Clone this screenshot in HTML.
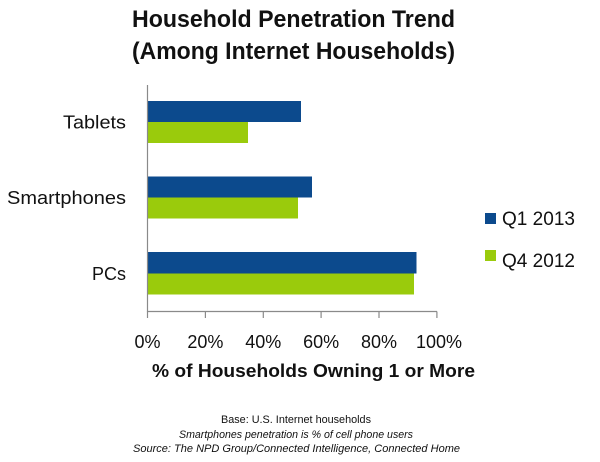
<!DOCTYPE html>
<html>
<head>
<meta charset="utf-8">
<style>
html,body{margin:0;padding:0;background:#fff;}
svg{display:block;}
text{font-family:"Liberation Sans",sans-serif;fill:#111;}
</style>
</head>
<body>
<svg width="600" height="462" viewBox="0 0 600 462" xmlns="http://www.w3.org/2000/svg">
<rect width="600" height="462" fill="#fff"/>
<!-- Title -->
<text x="132" y="27" font-size="24" font-weight="bold" textLength="323" lengthAdjust="spacingAndGlyphs">Household Penetration Trend</text>
<text x="132" y="59" font-size="24" font-weight="bold" textLength="323" lengthAdjust="spacingAndGlyphs">(Among Internet Households)</text>

<!-- Bars -->
<g>
<rect x="147.5" y="101" width="153.5" height="21" fill="#0c4a8d"/>
<rect x="147.5" y="122" width="100.5" height="21" fill="#9acb0c"/>
<rect x="147.5" y="176.5" width="164.5" height="21" fill="#0c4a8d"/>
<rect x="147.5" y="197.5" width="150.5" height="21" fill="#9acb0c"/>
<rect x="147.5" y="252" width="269" height="21.5" fill="#0c4a8d"/>
<rect x="147.5" y="273.5" width="266.5" height="21" fill="#9acb0c"/>
</g>

<!-- Axes -->
<g stroke="#8a8a8a" stroke-width="1.2" fill="none">
<line x1="147.5" y1="85" x2="147.5" y2="312"/>
<line x1="147.5" y1="311.5" x2="437" y2="311.5"/>
<line x1="147.5" y1="311.5" x2="147.5" y2="318"/>
<line x1="205.4" y1="311.5" x2="205.4" y2="318"/>
<line x1="263.3" y1="311.5" x2="263.3" y2="318"/>
<line x1="321.1" y1="311.5" x2="321.1" y2="318"/>
<line x1="379" y1="311.5" x2="379" y2="318"/>
<line x1="436.9" y1="311.5" x2="436.9" y2="318"/>
</g>

<!-- Category labels -->
<text x="126" y="128.5" font-size="18" text-anchor="end" textLength="63" lengthAdjust="spacingAndGlyphs">Tablets</text>
<text x="126" y="204" font-size="18" text-anchor="end" textLength="119" lengthAdjust="spacingAndGlyphs">Smartphones</text>
<text x="126" y="280" font-size="18" text-anchor="end">PCs</text>

<!-- Tick labels -->
<g font-size="18" text-anchor="middle">
<text x="147.5" y="348">0%</text>
<text x="205.4" y="348">20%</text>
<text x="263.3" y="348">40%</text>
<text x="321.1" y="348">60%</text>
<text x="379" y="348">80%</text>
<text x="439" y="348">100%</text>
</g>

<!-- Axis title -->
<text x="152" y="377" font-size="18" font-weight="bold" textLength="323" lengthAdjust="spacingAndGlyphs">% of Households Owning 1 or More</text>

<!-- Legend -->
<rect x="485" y="213" width="11" height="11" fill="#0c4a8d"/>
<text x="502" y="225" font-size="19" textLength="73" lengthAdjust="spacingAndGlyphs">Q1 2013</text>
<rect x="485" y="250" width="11" height="11" fill="#9acb0c"/>
<text x="502" y="267" font-size="19" textLength="73" lengthAdjust="spacingAndGlyphs">Q4 2012</text>

<!-- Footnotes -->
<g font-size="11" text-anchor="middle">
<text x="296" y="423" fill="#222" textLength="150" lengthAdjust="spacingAndGlyphs">Base: U.S. Internet households</text>
<text x="296" y="438" fill="#222" font-style="italic" textLength="234" lengthAdjust="spacingAndGlyphs">Smartphones penetration is % of cell phone users</text>
<text x="296.5" y="452" fill="#222" font-style="italic" textLength="327" lengthAdjust="spacingAndGlyphs">Source: The NPD Group/Connected Intelligence, Connected Home</text>
</g>
</svg>
</body>
</html>
